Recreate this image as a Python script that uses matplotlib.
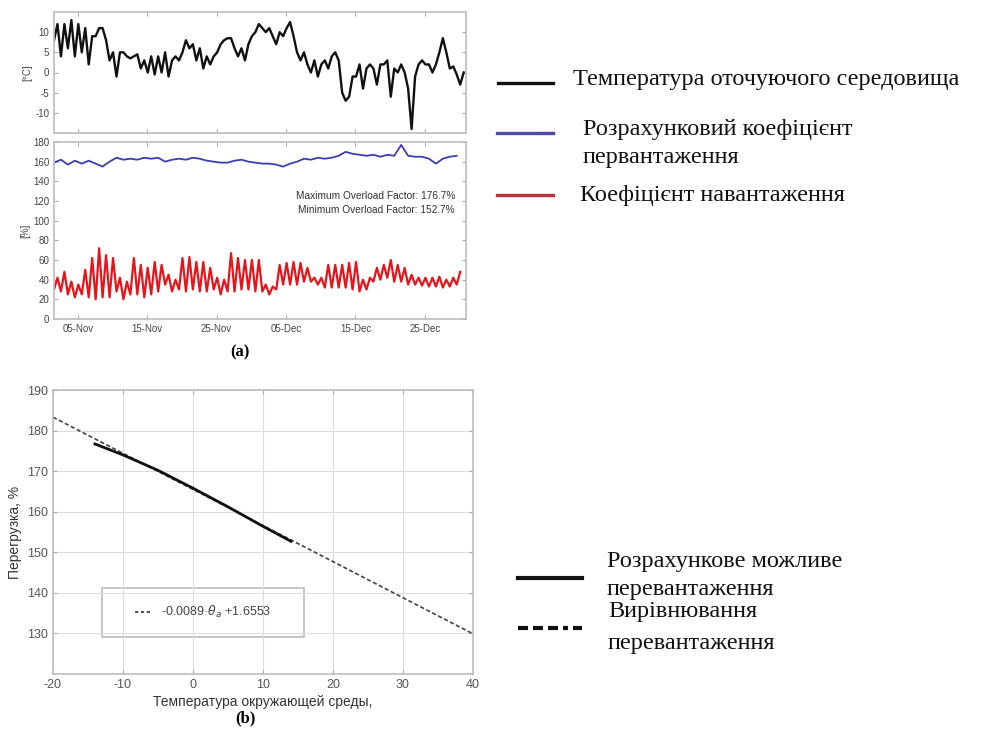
import datetime as dt
import matplotlib
matplotlib.use("Agg")
import matplotlib.pyplot as plt
import matplotlib.dates as mdates
from matplotlib.lines import Line2D
from matplotlib.patches import Rectangle

plt.rcParams["axes.unicode_minus"] = False

# ---------------- data ----------------
# (a) top: ambient temperature, one value every half day from 1 Nov 14:00
temp_c = [8, 12, 4, 12, 6, 13, 4, 12, 5, 11,
          2, 9, 9, 11, 11, 8, 3, 5, -1, 5,
          5, 4, 3.5, 4, 4.5, 1, 3, 0, 4, -0.5,
          4, 0, 5, -1, 3, 4, 3, 5, 8, 6,
          7, 3, 6, 1, 4, 2, 4, 5, 7, 8,
          8.5, 8.5, 6, 4, 6, 3, 7, 9, 10, 12,
          11, 10, 11, 9, 7, 10, 9, 11, 12.5, 9,
          5, 3, 5, 2, 0, 3, -1, 2, 3, 1,
          4, 5, 3, -5, -7, -6, -1, -1, 2, -4,
          1, 2, 1, -3, 2, 2, 3, -6, 1, 0,
          2, 0, -4, -14, -1, 2, 3, 2, 2, 0,
          2, 5, 8.5, 5, 1, 1.5, -0.5, -3, 0]

# (a) bottom: load factor, alternating night low / day high, half-day step
load_pct = [30, 42, 28, 48, 25, 38, 22, 35, 25, 50,
            22, 62, 20, 72, 22, 65, 22, 62, 28, 42,
            20, 38, 25, 62, 25, 55, 22, 52, 25, 58,
            28, 55, 35, 45, 28, 40, 30, 62, 28, 63,
            30, 58, 28, 58, 28, 52, 30, 42, 25, 40,
            28, 67, 28, 62, 30, 60, 30, 60, 28, 60,
            28, 35, 25, 33, 30, 55, 35, 57, 35, 58,
            35, 57, 38, 52, 38, 42, 35, 42, 32, 55,
            32, 55, 32, 55, 32, 57, 30, 58, 28, 40,
            30, 42, 38, 52, 40, 55, 42, 60, 38, 55,
            38, 52, 35, 45, 35, 42, 34, 42, 33, 42,
            33, 43, 32, 40, 33, 42, 35, 48]

# (a) bottom: calculated overload factor, daily
overload_pct = [159, 162, 157, 161, 158, 161, 158, 155, 160, 164,
                162, 163, 162, 164, 163, 164, 160, 162, 163, 162,
                164, 163, 161, 160, 159, 159, 161, 162, 160, 159,
                158, 158, 157, 155, 158, 160, 163, 162, 164, 163,
                164, 166, 170, 168, 167, 166, 167, 165, 167, 166,
                177, 166, 165, 165, 163, 158, 163, 165, 166]

start = dt.datetime(2011, 11, 1, 14)
end = dt.datetime(2011, 12, 30, 22)
half_day = dt.timedelta(hours=12)
one_day = dt.timedelta(days=1)
temp_time = [start + i * half_day for i in range(len(temp_c))]
load_time = [start + i * half_day for i in range(len(load_pct))]
overload_time = [start + i * one_day for i in range(len(overload_pct))]

# (b): overload vs ambient temperature
calc_t = [-14, -10, -5, 0, 5, 10, 14]
calc_pct = [176.7, 174.0, 170.2, 165.8, 161.2, 156.4, 152.7]
fit_t = [-20, 40]
fit_pct = [183.3, 129.9]

# ---------------- figure ----------------
W, H = 995, 736
fig = plt.figure(figsize=(W / 100, H / 100), dpi=100)


def box(x0, y0, x1, y1):
    # pixel box (top-left origin) -> figure fraction rect
    return [x0 / W, 1 - y1 / H, (x1 - x0) / W, (y1 - y0) / H]


def fx(x):
    return x / W


def fy(y):
    return 1 - y / H


frame_col = "#bdbdbd"
tick_col = "#444444"
sans = "Liberation Sans"
serif = "Liberation Serif"


def style_a(ax):
    for s in ax.spines.values():
        s.set_color(frame_col)
        s.set_linewidth(1.2)
    ax.tick_params(direction="in", length=3, color="#aaaaaa", labelsize=7,
                   labelcolor=tick_col, top=True, right=True)
    for lab in ax.get_xticklabels() + ax.get_yticklabels():
        lab.set_family(sans)


# top: temperature
ax1 = fig.add_axes(box(54, 12, 466, 133))
ax1.plot(temp_time, temp_c, color="#111111", lw=1.7)
ax1.set_xlim(start, end)
ax1.set_ylim(-15, 15)
ax1.set_yticks([-10, -5, 0, 5, 10])
ax1.xaxis.set_major_locator(mdates.DayLocator(bymonthday=[5, 15, 25]))
ax1.set_xticklabels([])
ax1.set_ylabel("[°C]", fontsize=7, family=sans, color=tick_col, labelpad=2)
style_a(ax1)

# middle: overload factor and load
ax2 = fig.add_axes(box(54, 142, 466, 319))
ax2.plot(overload_time, overload_pct, color="#3c3cb4", lw=1.3)
ax2.plot(load_time, load_pct, color="#e8141c", lw=1.6)
ax2.set_xlim(start, end)
ax2.set_ylim(0, 180)
ax2.set_yticks(range(0, 181, 20))
ax2.xaxis.set_major_locator(mdates.DayLocator(bymonthday=[5, 15, 25]))
ax2.xaxis.set_major_formatter(mdates.DateFormatter("%d-%b"))
ax2.set_ylabel("[%]", fontsize=7, family=sans, color=tick_col, labelpad=2)
ax2.text(0.973, 0.695, "Maximum Overload Factor: 176.7%", transform=ax2.transAxes,
         ha="right", va="center", fontsize=7.3, family=sans, color="#333333")
ax2.text(0.973, 0.616, "Minimum Overload Factor: 152.7%", transform=ax2.transAxes,
         ha="right", va="center", fontsize=7.3, family=sans, color="#333333")
style_a(ax2)

fig.text(fx(240), fy(352), "(a)", ha="center", va="center", fontsize=12,
         family=serif, weight="bold")

# (b)
ax3 = fig.add_axes(box(53, 390, 473, 674))
ax3.plot(fit_t, fit_pct, color="#444444", lw=1.2, ls=(0, (2.5, 1.5)))
ax3.plot(calc_t, calc_pct, color="#111111", lw=2)
ax3.set_xlim(-20, 40)
ax3.set_ylim(120, 190)
ax3.set_xticks(range(-20, 41, 10))
ax3.set_yticks(range(130, 191, 10))
ax3.grid(True, color="#dddddd", lw=0.8)
for s in ax3.spines.values():
    s.set_color(frame_col)
    s.set_linewidth(1.2)
ax3.tick_params(direction="in", length=3, color="#aaaaaa", labelsize=9,
                labelcolor="#555555", top=True, right=True)
for lab in ax3.get_xticklabels() + ax3.get_yticklabels():
    lab.set_family(sans)
ax3.set_xlabel("Температура окружающей среды,", fontsize=10, family=sans,
               color="#333333", labelpad=3)
ax3.set_ylabel("Перегрузка, %", fontsize=10, family=sans, color="#333333",
               labelpad=4)
ax3.add_patch(Rectangle((0.117, 0.130), 0.481, 0.173, transform=ax3.transAxes,
                        fill=False, ec="#bbbbbb", lw=1.2))
ax3.legend([Line2D([], [], color="#333333", lw=1.2, ls=(0, (2, 1.5)))],
           ["-0.0089·$\\theta_a$ +1.6553"], loc="center",
           bbox_to_anchor=(0.357, 0.218), frameon=False, handlelength=1.3,
           prop={"family": sans, "size": 9}, labelcolor="#444444")

fig.text(fx(245), fy(718), "(b)", ha="center", va="center", fontsize=12,
         family=serif, weight="bold")


# ---------------- side legends ----------------
def handle(x0, x1, y, **kw):
    fig.add_artist(Line2D([fx(x0), fx(x1)], [fy(y), fy(y)],
                          transform=fig.transFigure, **kw))


def label(x, y, s):
    fig.text(fx(x), fy(y), s, ha="left", va="center", fontsize=17.5,
             family=serif, color="#111111")


handle(498, 553, 83, color="#111111", lw=2.4)
label(573, 80, "Температура оточуючого середовища")
handle(497, 553, 133, color="#4a4aa8", lw=2.4)
label(583, 130, "Розрахунковий коефіцієнт")
label(583, 158, "первантаження")
handle(497, 553, 195, color="#b8323c", lw=2.4)
label(580, 195, "Коефіцієнт навантаження")

handle(518, 582, 578, color="#111111", lw=3)
label(607, 562, "Розрахункове можливе")
label(607, 590, "перевантаження")
handle(518, 582, 628, color="#111111", lw=3,
       dashes=[2.4, 1.2, 2.4, 1.2, 2.4, 1.2, 1.2, 1.2])
label(608, 612, "Вирівнювання")
label(608, 643, "перевантаження")

fig.savefig("out.png", dpi=100)
